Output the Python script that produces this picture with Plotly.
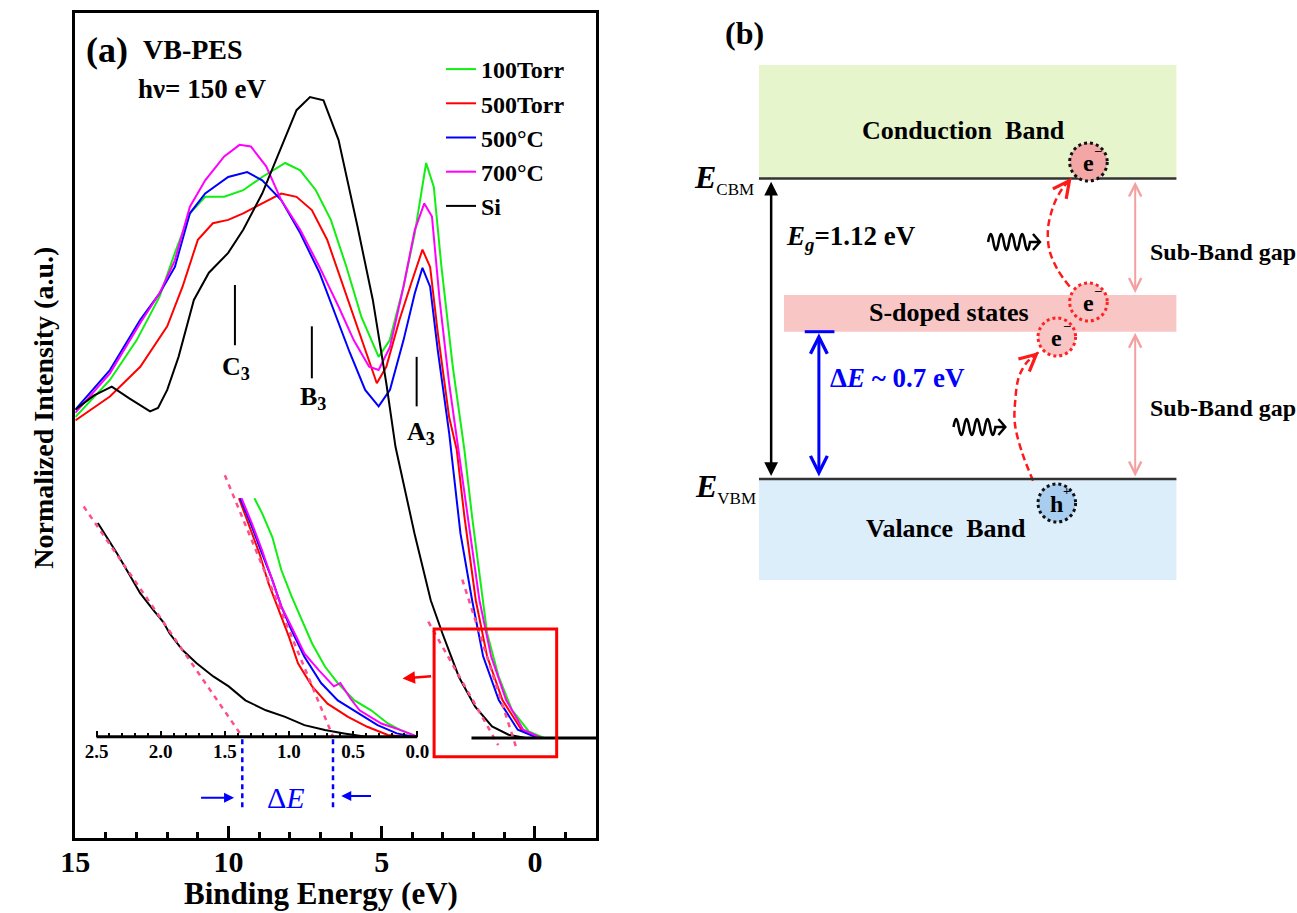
import plotly.graph_objects as go

FONT = "Liberation Serif, Times New Roman, serif"

# ---------------- Panel (a): VB-PES spectra ----------------
series_names = ["100Torr", "500Torr", "500°C", "700°C", "Si"]
series_colors = ["#11ee11", "#ff0000", "#0000ff", "#ff00ff", "#000000"]

be_100torr = [15, 13.87, 13.0, 12.25, 11.75, 11.26, 10.76, 10.14, 9.52, 8.9, 8.15, 7.66, 7.15, 6.66, 6.15, 5.66, 5.1, 4.74, 4.29, 3.92, 3.55, 3.3, 3.05, 2.68, 2.3, 2.05, 1.56, 1.18, 0.75, 0.2, -0.3, -2]
int_100torr = [38.9, 43.4, 48.2, 53.5, 58.8, 63.6, 65.6, 65.6, 66.4, 68.0, 69.7, 68.8, 66.4, 62.8, 57.1, 51.0, 46.2, 48.2, 54.7, 61.2, 69.7, 66.8, 57.1, 45.0, 34.9, 26.8, 12.7, 7.4, 3.4, 0.8, 0.0, 0.0]

be_500torr = [15, 13.87, 12.88, 12.0, 11.5, 11.0, 10.51, 10.01, 9.52, 8.9, 8.28, 7.78, 7.28, 6.78, 6.28, 5.79, 5.16, 4.85, 4.42, 4.04, 3.67, 3.42, 3.17, 2.8, 2.55, 2.3, 1.93, 1.56, 1.06, 0.44, -0.1, -2]
int_500torr = [38.5, 41.4, 45.0, 49.9, 54.7, 60.4, 62.4, 62.8, 63.6, 64.8, 66.0, 65.6, 64.0, 60.4, 55.1, 49.9, 43.0, 45.0, 50.7, 55.1, 59.2, 57.1, 49.1, 38.9, 34.9, 26.8, 16.7, 9.9, 4.6, 1.0, 0.0, 0.0]

be_500c = [15, 13.87, 12.88, 12.25, 11.75, 11.26, 10.76, 10.01, 9.39, 8.9, 8.28, 7.66, 7.03, 6.53, 6.04, 5.54, 5.1, 4.73, 4.29, 3.92, 3.67, 3.42, 3.17, 2.8, 2.68, 2.43, 2.05, 1.69, 1.18, 0.56, -0.1, -2]
int_500c = [39.8, 44.6, 50.7, 53.9, 57.1, 63.6, 66.0, 68.0, 68.6, 67.6, 65.2, 61.2, 56.4, 51.5, 46.7, 42.2, 40.2, 42.2, 48.2, 53.9, 57.0, 54.7, 47.0, 37.0, 32.9, 24.8, 16.7, 9.9, 4.6, 1.0, 0.0, 0.0]

be_700c = [15, 13.87, 12.88, 12.25, 11.75, 11.26, 10.76, 10.14, 9.64, 9.27, 8.77, 8.28, 7.66, 7.03, 6.41, 5.91, 5.41, 5.1, 4.73, 4.29, 3.92, 3.61, 3.36, 3.11, 2.8, 2.49, 2.18, 1.81, 1.43, 0.94, 0.38, -0.2, -2]
int_700c = [39.4, 44.2, 50.3, 53.9, 57.9, 64.4, 67.6, 70.5, 71.9, 71.7, 69.3, 65.2, 61.6, 57.1, 52.3, 48.2, 45.0, 44.6, 47.4, 54.7, 61.6, 64.8, 63.2, 53.1, 43.0, 34.9, 26.8, 16.7, 9.9, 4.6, 1.0, 0.0, 0.0]

be_si = [15, 14.4, 13.81, 13.25, 12.56, 12.3, 12.0, 11.63, 11.13, 10.64, 10.01, 9.52, 8.9, 8.28, 7.78, 7.34, 6.9, 6.41, 5.79, 5.29, 4.85, 4.55, 3.93, 3.4, 3.02, 2.48, 1.95, 1.4, 0.86, 0.3, -2]
int_si = [39.8, 41.5, 42.6, 41.2, 39.6, 40.0, 42.2, 46.2, 53.1, 56.4, 58.8, 61.6, 66.0, 71.7, 76.1, 77.7, 77.3, 72.5, 62.0, 53.1, 43.0, 35.3, 24.8, 16.7, 12.7, 7.4, 3.8, 1.4, 0.4, 0.0, 0.0]

main_be = [be_100torr, be_500torr, be_500c, be_700c, be_si]
main_int = [int_100torr, int_500torr, int_500c, int_700c, int_si]

# linear extrapolations of the leading edges (main panel)
fit_main_si_be = [3.48, 1.2]
fit_main_si_int = [14.1, -0.85]
fit_main_s_be = [2.37, 0.62]
fit_main_s_int = [19.2, -1.05]

# zero line of the spectra
zero_line_be = [2.07, -2.0]

# zoom box and its arrow (main panel units)
zoom_box_be = [3.29, -0.71]
zoom_box_int = [-2.27, 13.2]
zoom_arrow_be = [3.34, 4.32]
zoom_arrow_int = [7.5, 7.2]

# peak markers
peak_labels = ["C<sub>3</sub>", "B<sub>3</sub>", "A<sub>3</sub>"]
peak_be = [9.79, 7.28, 3.86]
peak_mark_low = [47.6, 43.6, 40.2]
peak_mark_high = [54.9, 49.9, 46.2]
peak_label_be = [9.77, 7.25, 3.73]
peak_label_int = [44.9, 41.2, 37.0]

# ---------------- Inset: leading-edge zoom ----------------
ins_be_100torr = [1.27, 1.21, 1.13, 1.06, 0.98, 0.90, 0.82, 0.72, 0.62, 0.49, 0.36, 0.23, 0.13, 0.0]
ins_int_100torr = [28.9, 27.1, 24.2, 20.2, 17.0, 14.1, 11.3, 8.5, 6.5, 4.4, 3.2, 1.6, 0.8, 0.0]
ins_be_500torr = [1.39, 1.31, 1.23, 1.16, 1.08, 1.0, 0.93, 0.82, 0.70, 0.54, 0.39, 0.23, 0.10]
ins_int_500torr = [28.9, 25.5, 22.2, 18.6, 15.4, 12.1, 8.9, 6.1, 4.0, 2.4, 1.2, 0.2, 0.0]
ins_be_500c = [1.38, 1.29, 1.21, 1.13, 1.06, 0.98, 0.88, 0.75, 0.62, 0.46, 0.31, 0.16, 0.03]
ins_int_500c = [28.9, 25.5, 22.2, 19.0, 15.8, 12.9, 9.7, 6.5, 4.4, 2.8, 1.4, 0.4, 0.0]
ins_be_700c = [1.37, 1.29, 1.21, 1.13, 1.06, 0.98, 0.88, 0.77, 0.65, 0.60, 0.52, 0.45, 0.39, 0.28, 0.13, 0.0]
ins_int_700c = [28.9, 25.9, 22.6, 19.0, 15.8, 13.3, 10.1, 8.1, 6.1, 6.5, 4.6, 3.2, 2.6, 1.6, 0.8, 0.0]
ins_be_si = [2.49, 2.42, 2.34, 2.25, 2.16, 2.06, 1.98, 1.93, 1.83, 1.72, 1.59, 1.47, 1.34, 1.18, 1.03, 0.88, 0.72, 0.57, 0.46, 0.40]
ins_int_si = [25.9, 24.2, 22.2, 19.8, 17.4, 15.4, 13.9, 12.5, 10.5, 8.9, 7.3, 6.1, 4.4, 3.2, 2.4, 1.4, 0.8, 0.4, 0.2, 0.0]

ins_be = [ins_be_100torr, ins_be_500torr, ins_be_500c, ins_be_700c, ins_be_si]
ins_int = [ins_int_100torr, ins_int_500torr, ins_int_500c, ins_int_700c, ins_int_si]

fit_ins_si_be = [2.6, 1.364]
fit_ins_si_int = [27.9, 0.0]
fit_ins_s_be = [1.50, 0.657]
fit_ins_s_int = [31.7, 0.0]
delta_e_marks = [1.364, 0.657]
delta_e_mark_int = [-0.3, -8.9]
inset_ticks = [2.5, 2.0, 1.5, 1.0, 0.5, 0.0]
inset_ticktext = ["2.5", "2.0", "1.5", "1.0", "0.5", "0.0"]
inset_minor = [2.4, 2.3, 2.2, 2.1, 1.9, 1.8, 1.7, 1.6, 1.4, 1.3, 1.2, 1.1, 0.9, 0.8, 0.7, 0.6, 0.4, 0.3, 0.2, 0.1]

# ---------------- Panel (b): band diagram (energy in eV) ----------------
E_VBM = 0.0
E_CBM = 1.12
S_BAND = [0.549, 0.686]
CB_TOP = 1.543
VB_BOTTOM = -0.376

PINK = "#ff4d8d"
PX_PER_EV = 268.3

fig = go.Figure()

# main spectra
for name, col, xs, ys in zip(series_names, series_colors, main_be, main_int):
    fig.add_trace(go.Scatter(x=xs, y=ys, mode="lines", name=name,
                             line=dict(color=col, width=2), xaxis="x", yaxis="y"))
for xs, ys in [(fit_main_si_be, fit_main_si_int), (fit_main_s_be, fit_main_s_int)]:
    fig.add_trace(go.Scatter(x=xs, y=ys, mode="lines", showlegend=False,
                             line=dict(color=PINK, width=2.5, dash="5px,5px"), xaxis="x", yaxis="y"))

# inset spectra
for col, xs, ys in zip(series_colors, ins_be, ins_int):
    fig.add_trace(go.Scatter(x=xs, y=ys, mode="lines", showlegend=False,
                             line=dict(color=col, width=2), xaxis="x2", yaxis="y2"))
for xs, ys in [(fit_ins_si_be, fit_ins_si_int), (fit_ins_s_be, fit_ins_s_int)]:
    fig.add_trace(go.Scatter(x=xs, y=ys, mode="lines", showlegend=False,
                             line=dict(color=PINK, width=2.5, dash="5px,5px"), xaxis="x2", yaxis="y2"))
for xv in delta_e_marks:
    fig.add_trace(go.Scatter(x=[xv, xv], y=delta_e_mark_int, mode="lines", showlegend=False,
                             line=dict(color="#0000ff", width=2.5, dash="5px,4px"), xaxis="x2", yaxis="y2"))

# panel (b) curved transition paths
path_low_x = [1030, 1018, 1011.5, 1012, 1015.6, 1024, 1036]
path_low_y = [-0.0067, 0.1081, 0.2087, 0.2944, 0.3802, 0.4361, 0.4734]
path_up_x = [1067, 1055, 1046.5, 1045, 1047.7, 1053, 1060, 1069]
path_up_y = [0.7175, 0.7790, 0.8535, 0.9281, 0.9840, 1.0399, 1.0846, 1.1230]
for xs, ys in [(path_low_x, path_low_y), (path_up_x, path_up_y)]:
    fig.add_trace(go.Scatter(x=xs, y=ys, mode="lines", showlegend=False,
                             line=dict(color="#ff1a1a", width=2.5, dash="7px,4px", shape="spline"),
                             xaxis="x3", yaxis="y3"))

shapes = []
annotations = []


def bold(size, color="black", family=FONT, weight="bold"):
    return dict(family=family, size=size, color=color, weight=weight)


# ---- panel (a) decorations ----
shapes.append(dict(type="line", xref="x", yref="y", x0=zero_line_be[0], x1=zero_line_be[1], y0=0, y1=0,
                   line=dict(color="black", width=3)))
shapes.append(dict(type="rect", xref="x", yref="y", x0=zoom_box_be[0], x1=zoom_box_be[1],
                   y0=zoom_box_int[0], y1=zoom_box_int[1], line=dict(color="#ff0000", width=3)))
annotations.append(dict(xref="x", yref="y", axref="x", ayref="y", x=zoom_arrow_be[1], y=zoom_arrow_int[1],
                        ax=zoom_arrow_be[0], ay=zoom_arrow_int[0], text="", showarrow=True,
                        arrowhead=2, arrowsize=1, arrowwidth=2.5, arrowcolor="#ff0000"))
for be, lo, hi, lab, lbe, lint in zip(peak_be, peak_mark_low, peak_mark_high, peak_labels, peak_label_be, peak_label_int):
    shapes.append(dict(type="line", xref="x", yref="y", x0=be, x1=be, y0=lo, y1=hi,
                       line=dict(color="black", width=2)))
    annotations.append(dict(xref="x", yref="y", x=lbe, y=lint, text=lab, showarrow=False,
                            xanchor="center", yanchor="middle", font=bold(26)))

annotations.append(dict(xref="x", yref="y", x=14.71, y=83.4, text="(a)", showarrow=False,
                        xanchor="left", yanchor="middle", font=bold(36)))
annotations.append(dict(xref="x", yref="y", x=12.86, y=83.5, text="VB-PES", showarrow=False,
                        xanchor="left", yanchor="middle", font=bold(28)))
annotations.append(dict(xref="x", yref="y", x=13.02, y=78.7, text="hν= 150 eV", showarrow=False,
                        xanchor="left", yanchor="middle", font=bold(27)))

# inset axis line and ΔE annotation
shapes.append(dict(type="line", xref="x2", yref="y2", x0=inset_ticks[0], x1=inset_ticks[-1], y0=0, y1=0,
                   line=dict(color="black", width=3)))
annotations.append(dict(xref="x2", yref="y2", x=1.025, y=-7.4, text="Δ<i>E</i>", showarrow=False,
                        font=dict(family=FONT, size=30, color="#0000ff")))
annotations.append(dict(xref="x2", yref="y2", axref="x2", ayref="y2", x=1.428, y=-7.4, ax=1.697, ay=-7.4,
                        text="", showarrow=True, arrowhead=2, arrowsize=1, arrowwidth=2, arrowcolor="#0000ff"))
annotations.append(dict(xref="x2", yref="y2", axref="x2", ayref="y2", x=0.593, y=-7.2, ax=0.349, ay=-7.2,
                        text="", showarrow=True, arrowhead=2, arrowsize=1, arrowwidth=2, arrowcolor="#0000ff"))

# axis titles
annotations.append(dict(xref="paper", yref="paper", x=28 / 1297, y=1 - 408 / 913, text="Normalized Intensity (a.u.)",
                        textangle=-90, showarrow=False, xanchor="center", yanchor="middle", font=bold(28)))
annotations.append(dict(xref="paper", yref="paper", x=310 / 1297, y=1 - 893 / 913, text="Binding Energy (eV)",
                        showarrow=False, xanchor="center", yanchor="middle", font=bold(31)))

# ---- panel (b) ----
X0, X1, XS = 752.7, 1175, 778
shapes += [
    dict(type="rect", xref="x3", yref="y3", x0=X0, x1=X1, y0=E_CBM, y1=CB_TOP, fillcolor="#e6f5cc", line=dict(width=0), layer="below"),
    dict(type="rect", xref="x3", yref="y3", x0=X0, x1=X1, y0=VB_BOTTOM, y1=E_VBM, fillcolor="#ddeefb", line=dict(width=0), layer="below"),
    dict(type="rect", xref="x3", yref="y3", x0=XS, x1=X1, y0=S_BAND[0], y1=S_BAND[1], fillcolor="#f9c6c6", line=dict(width=0), layer="below"),
    dict(type="line", xref="x3", yref="y3", x0=X0, x1=X1, y0=E_CBM, y1=E_CBM, line=dict(color="#333333", width=2.5)),
    dict(type="line", xref="x3", yref="y3", x0=X0, x1=X1, y0=E_VBM, y1=E_VBM, line=dict(color="#333333", width=2.5)),
    dict(type="line", xref="x3", yref="y3", x0=799, x1=829, y0=S_BAND[0], y1=S_BAND[0], line=dict(color="#0000ff", width=3)),
]
RY = 19 / PX_PER_EV
circles = [
    (1086, 1.1815, "#f3a6a6", "#111111", "e", "–"),
    (1086, 0.6597, "#f8c4c4", "#ff2222", "e", "–"),
    (1054, 0.5293, "#f8c4c4", "#ff2222", "e", "–"),
    (1054, -0.0895, "#a9cdee", "#111111", "h", "+"),
]
for cx, cy, fc, lc, t, sgn in circles:
    shapes.append(dict(type="circle", xref="x3", yref="y3", x0=cx - 19, x1=cx + 19, y0=cy - RY, y1=cy + RY,
                       fillcolor=fc, line=dict(color=lc, width=3, dash="dot")))
    annotations.append(dict(xref="x3", yref="y3", x=cx, y=cy - 0.005, text=t, showarrow=False, font=bold(24)))
    annotations.append(dict(xref="x3", yref="y3", x=cx + 10, y=cy + 0.045, text=sgn, showarrow=False,
                            font=bold(13)))


# photon (wavy) arrows drawn as a squiggle path
def squiggle(xc, yc):
    amp = 8 / PX_PER_EV
    w = 5.3
    x0 = xc - 27
    p = f"M {x0},{yc}"
    for k in range(8):
        s = 1 if k % 2 == 0 else -1
        p += f" Q {x0 + (k + 0.5) * w},{yc + s * 2 * amp} {x0 + (k + 1) * w},{yc}"
    xe = x0 + 8 * w + 10
    p += f" L {xe},{yc} M {xe - 7},{yc + amp} L {xe},{yc} L {xe - 7},{yc - amp}"
    return dict(type="path", xref="x3", yref="y3", path=p, line=dict(color="black", width=2.5))


for xc, yc in [(1011.5, 0.8833), (976.5, 0.1938)]:
    shapes.append(squiggle(xc, yc))

# double arrows
annotations += [
    dict(xref="x3", yref="y3", axref="x3", ayref="y3", x=765, y=1.108, ax=765, ay=0.006, text="", showarrow=True,
         arrowhead=2, startarrowhead=2, arrowside="end+start", arrowsize=1.1, startarrowsize=1.1, arrowwidth=2.5, arrowcolor="black"),
    dict(xref="x3", yref="y3", axref="x3", ayref="y3", x=813.3, y=0.543, ax=813.3, ay=0.004, text="", showarrow=True,
         arrowhead=5, startarrowhead=5, arrowside="end+start", arrowsize=1.1, startarrowsize=1.1, arrowwidth=3, arrowcolor="#0000ff"),
    dict(xref="x3", yref="y3", axref="x3", ayref="y3", x=1133.3, y=1.108, ax=1133.3, ay=0.688, text="", showarrow=True,
         arrowhead=5, startarrowhead=5, arrowside="end+start", arrowsize=1.2, startarrowsize=1.2, arrowwidth=2, arrowcolor="#f4a0a0"),
    dict(xref="x3", yref="y3", axref="x3", ayref="y3", x=1133.3, y=0.545, ax=1133.3, ay=0.004, text="", showarrow=True,
         arrowhead=5, startarrowhead=5, arrowside="end+start", arrowsize=1.2, startarrowsize=1.2, arrowwidth=2, arrowcolor="#f4a0a0"),
    # arrow tips of the dashed paths
    dict(xref="x3", yref="y3", x=path_low_x[-1], y=path_low_y[-1], ax=-8, ay=7, text="", showarrow=True,
         arrowhead=5, arrowsize=1.3, arrowwidth=2.5, arrowcolor="#ff1a1a"),
    dict(xref="x3", yref="y3", x=path_up_x[-1], y=path_up_y[-1], ax=-6, ay=8, text="", showarrow=True,
         arrowhead=5, arrowsize=1.3, arrowwidth=2.5, arrowcolor="#ff1a1a"),
]

texts_b = [
    (960, 1.298, "Conduction  Band", "center", 26, "black"),
    (945, 0.619, "S-doped states", "center", 26, "black"),
    (941.7, -0.183, "Valance  Band", "center", 26, "black"),
    (778, 0.898, "<i>E</i><sub><i>g</i></sub>=1.12 eV", "left", 27, "black"),
    (823, 0.376, "Δ<i>E</i> ~ 0.7 eV", "left", 27, "#0000ff"),
    (1146.7, 0.847, "Sub-Band gap", "left", 24, "black"),
    (1146.7, 0.2635, "Sub-Band gap", "left", 24, "black"),
    (738, 1.663, "(b)", "center", 32, "black"),
]
for x, y, t, xa, s, c in texts_b:
    annotations.append(dict(xref="x3", yref="y3", x=x, y=y, text=t, showarrow=False, xanchor=xa,
                            yanchor="middle", font=bold(s, c)))
annotations.append(dict(xref="x3", yref="y3", x=750, y=1.118, showarrow=False, xanchor="right", yanchor="middle",
                        text="<i>E</i><sub><span style='font-size:17px;font-weight:normal'>CBM</span></sub>", font=bold(32)))
annotations.append(dict(xref="x3", yref="y3", x=752, y=-0.035, showarrow=False, xanchor="right", yanchor="middle",
                        text="<i>E</i><sub><span style='font-size:17px;font-weight:normal'>VBM</span></sub>", font=bold(32)))

axis_common = dict(showgrid=False, zeroline=False)
fig.update_layout(
    width=1297, height=913,
    margin=dict(l=0, r=0, t=0, b=0),
    paper_bgcolor="white", plot_bgcolor="rgba(0,0,0,0)",
    font=dict(family=FONT, color="black"),
    xaxis=dict(domain=[61 / 1297, 588 / 1297], range=[15, -2], anchor="y",
               showline=True, mirror=True, linewidth=3, linecolor="black",
               ticks="inside", tickvals=[15, 10, 5, 0], ticktext=["15", "10", "5", "0"],
               ticklen=12, tickwidth=2.5, tickcolor="black", ticklabelstandoff=-5,
               tickfont=bold(30),
               minor=dict(tickvals=[14, 13, 12, 11, 9, 8, 7, 6, 4, 3, 2, 1, -1], ticks="inside",
                          ticklen=6, tickwidth=2.5, tickcolor="black"),
               **axis_common),
    yaxis=dict(domain=[1 - 838 / 913, 1 - 13 / 913], range=[-12.12, 87.88], anchor="x",
               showline=True, mirror=True, linewidth=3, linecolor="black",
               showticklabels=False, ticks="", **axis_common),
    xaxis2=dict(domain=[66 / 1297, 420 / 1297], range=[2.627, -0.100], anchor="free",
                position=1 - 736.7 / 913, showline=False,
                ticks="inside", tickvals=inset_ticks, ticktext=inset_ticktext,
                ticklen=6, tickwidth=2, tickcolor="black", ticklabelstandoff=1,
                tickfont=bold(19),
                minor=dict(tickvals=inset_minor, ticks="inside", ticklen=4, tickwidth=2, tickcolor="black"),
                **axis_common),
    yaxis2=dict(domain=[1 - 830 / 913, 1 - 465 / 913], range=[-11.31, 32.93], anchor="x2",
                visible=False, **axis_common),
    xaxis3=dict(domain=[650 / 1297, 1.0], range=[650, 1297], anchor="y3", visible=False, **axis_common),
    yaxis3=dict(domain=[0.0, 1.0], range=[-1.6176, 1.7853], anchor="x3", visible=False, **axis_common),
    legend=dict(x=431 / 1297, y=1 - 47 / 913, xanchor="left", yanchor="top",
                bgcolor="rgba(0,0,0,0)", font=bold(24), tracegroupgap=0),
    shapes=shapes,
    annotations=annotations,
)

fig.write_html("out.html", config={"displayModeBar": False},
               post_script="document.body.style.margin='0px';document.body.style.padding='0px';")
